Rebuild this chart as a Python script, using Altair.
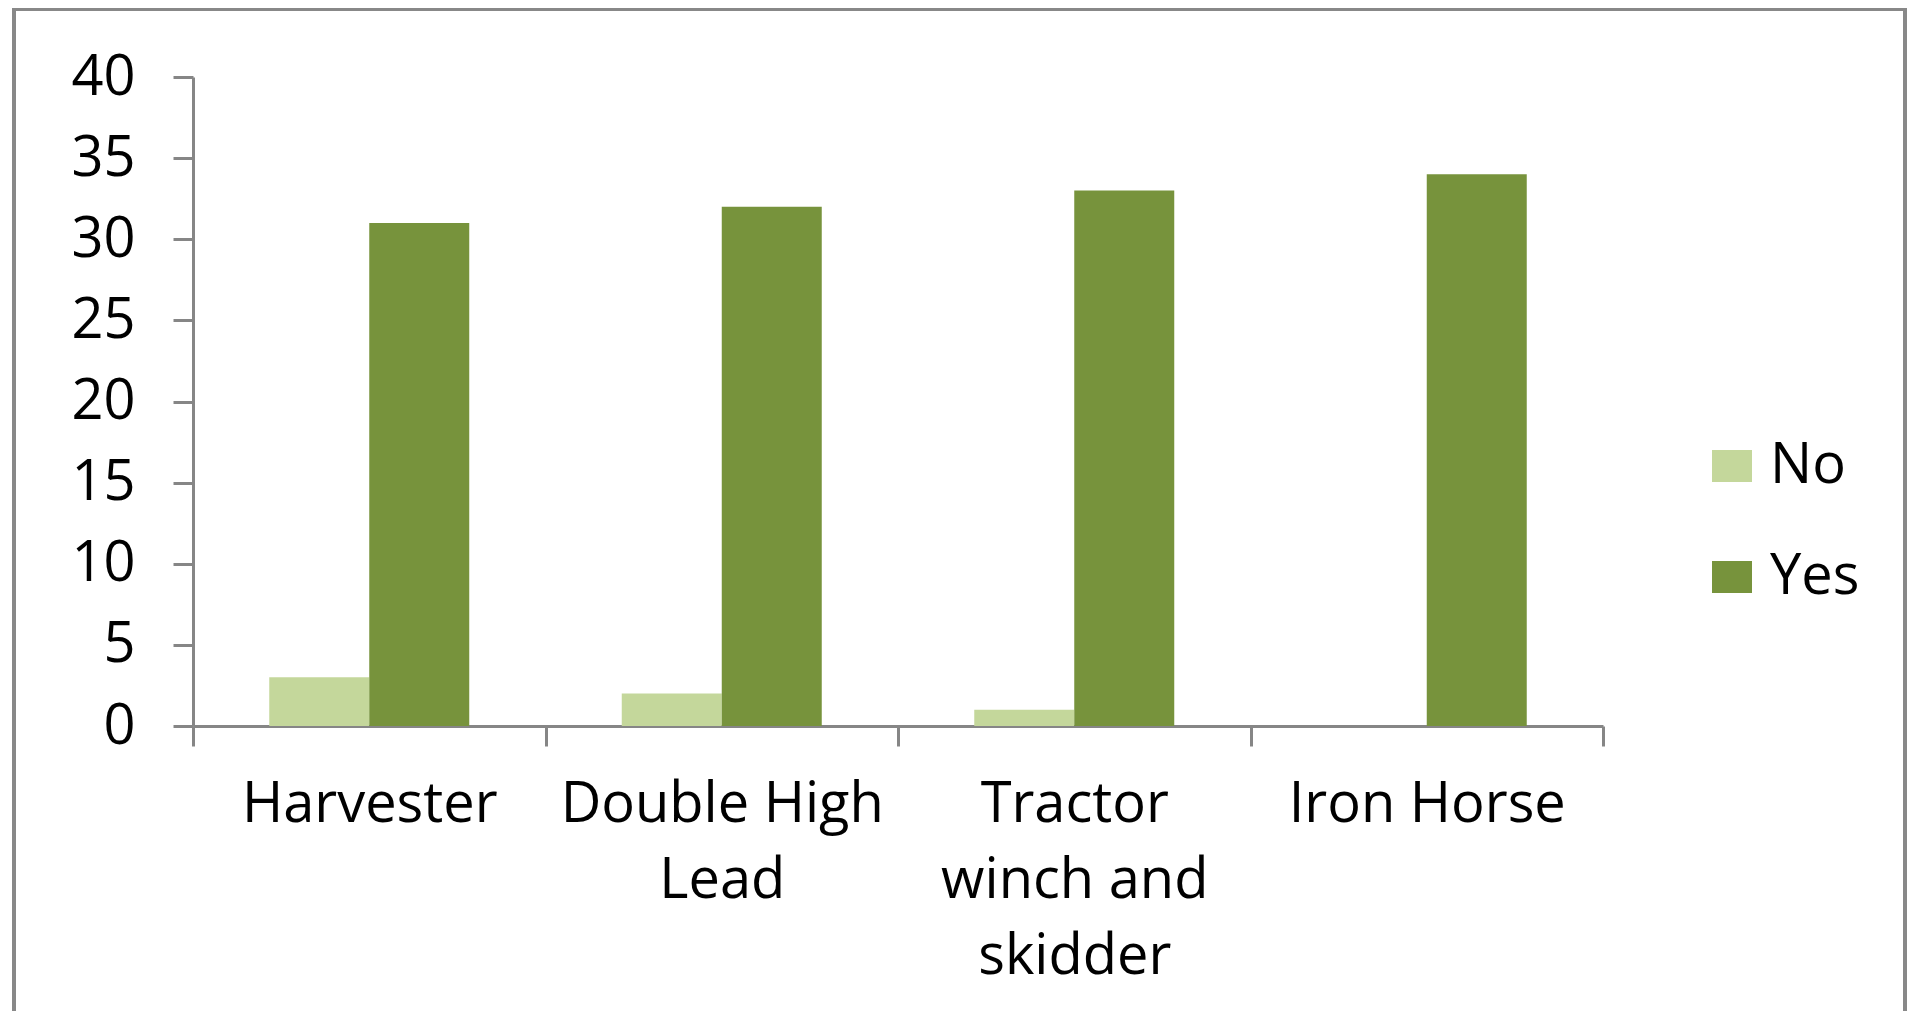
import altair as alt
import pandas as pd

categories = ["Harvester", "Double High Lead", "Tractor winch and skidder", "Iron Horse"]
label_lines = [["Harvester"], ["Double High", "Lead"], ["Tractor", "winch and", "skidder"], ["Iron Horse"]]
series = ["No", "Yes"]
no_values = [3, 2, 1, 0]
yes_values = [31, 32, 33, 34]
y_ticks = [0, 5, 10, 15, 20, 25, 30, 35, 40]
colors = ["#C4D79B", "#77933C"]

rows = []
for c, n, y in zip(categories, no_values, yes_values):
    rows.append({"category": c, "series": "No", "value": n})
    rows.append({"category": c, "series": "Yes", "value": y})
df = pd.DataFrame(rows)

# label expression for multi-line category labels
parts = []
for c, lines in zip(categories, label_lines):
    arr = "[" + ",".join("'" + l + "'" for l in lines) + "]"
    parts.append(f"datum.label == '{c}' ? {arr} : ")
label_expr = "".join(parts) + "datum.label"

FONT = "Open Sans"
GRAY = "#868686"
FS = 56

bars = alt.Chart(df).mark_bar().encode(
    x=alt.X("category:N", sort=categories,
            scale=alt.Scale(paddingInner=0, paddingOuter=0),
            axis=alt.Axis(title=None, labelAngle=0, labelExpr=label_expr,
                          tickBand="extent", labelFontSize=FS, labelFont=FONT,
                          labelColor="#000000", labelPadding=31, tickSize=20,
                          labelLineHeight=76, labelBaseline="top", labelLimit=0)),
    xOffset=alt.XOffset("series:N", sort=series,
                        scale=alt.Scale(paddingInner=0, paddingOuter=0.7625)),
    y=alt.Y("value:Q", scale=alt.Scale(domain=[0, 40], nice=False),
            axis=alt.Axis(title=None, values=y_ticks, labelFontSize=FS,
                          labelFont=FONT, labelColor="#000000", tickSize=20,
                          labelPadding=38, grid=False, labelLimit=0)),
    color=alt.Color("series:N", sort=series,
                    scale=alt.Scale(domain=series, range=colors),
                    legend=alt.Legend(title=None, orient="none", legendX=1511,
                                      legendY=361, labelFontSize=FS, labelFont=FONT,
                                      labelColor="#000000", labelOffset=10,
                                      symbolType="M-1,-0.8H1V0.8H-1Z", symbolSize=1600,
                                      symbolStrokeWidth=0, rowPadding=55, padding=0,
                                      labelLimit=0)),
)

border = alt.Chart(pd.DataFrame({"a": [0]})).mark_rect(
    fill=None, stroke="#888888", strokeWidth=4
).encode(
    x=alt.value(-179), x2=alt.value(1712), y=alt.value(-68), y2=alt.value(1100)
)

chart = alt.layer(border, bars).properties(
    width=1410, height=649,
    autosize=alt.AutoSizeParams(type="none"),
    padding={"left": 185, "top": 69, "right": 305, "bottom": 285},
).configure_view(stroke=None).configure_axis(
    domainColor=GRAY, domainWidth=3, tickColor=GRAY, tickWidth=3
)

chart.save("out.html", embed_options={"renderer": "svg", "actions": False})
